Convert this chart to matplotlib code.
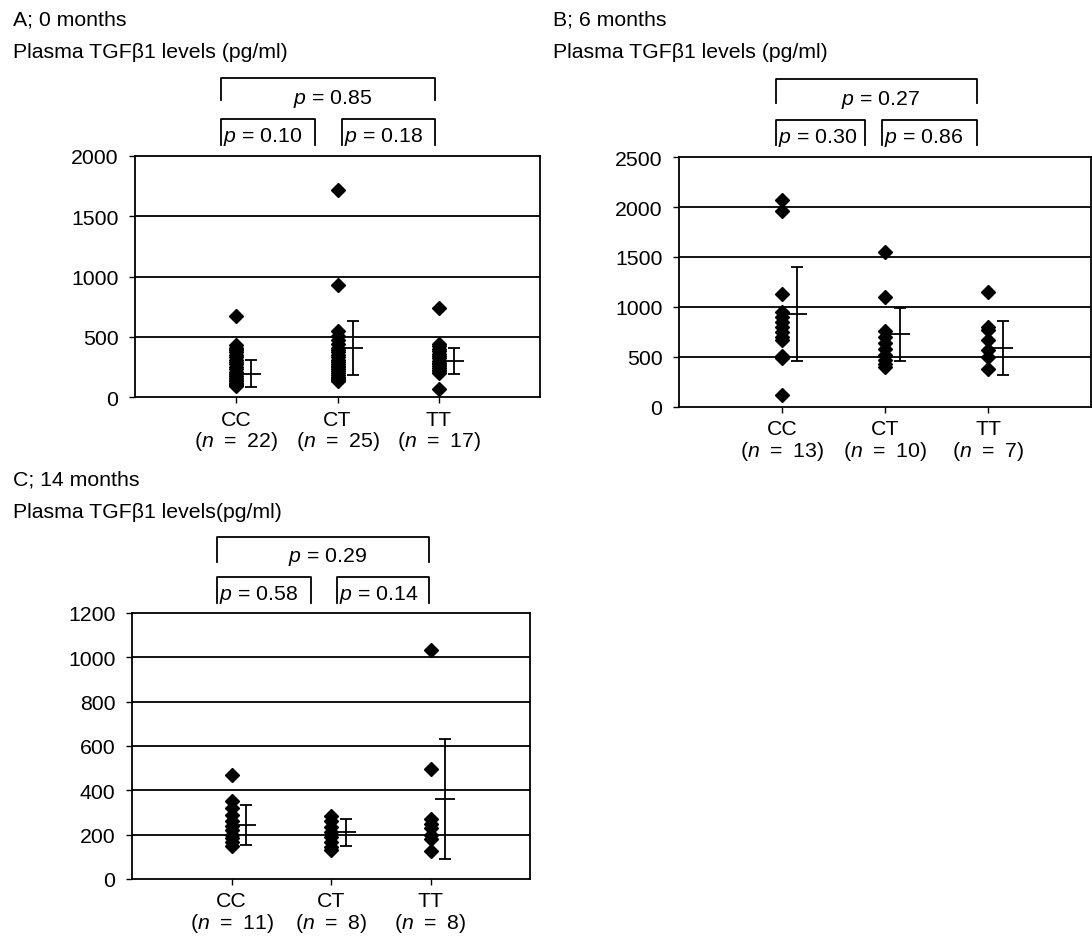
import matplotlib
matplotlib.use("Agg")
import matplotlib.pyplot as plt
from matplotlib.lines import Line2D

plt.rcParams['font.family'] = ['Liberation Sans', 'DejaVu Sans']
plt.rcParams['mathtext.fontset'] = 'custom'
plt.rcParams['mathtext.it'] = 'Liberation Sans:italic'
plt.rcParams['mathtext.rm'] = 'Liberation Sans'

# ---------------- data ----------------
genotypes = ["CC", "CT", "TT"]

a_cc = [674, 430, 410, 390, 370, 350, 330, 310, 290, 270, 250, 230, 210, 190, 175, 160, 145, 130, 118, 106, 96, 88]
a_ct = [1714, 932, 549, 510, 470, 440, 410, 390, 370, 350, 330, 310, 290, 275, 260, 245, 230, 215, 200, 185, 170, 160, 150, 140, 133]
a_tt = [735, 438, 420, 400, 380, 360, 340, 320, 300, 285, 270, 255, 240, 225, 212, 202, 69]
a_mean = [192, 405, 300]
a_sd = [113, 222, 110]
a_n = [22, 25, 17]
a_p = ["0.85", "0.10", "0.18"]

b_cc = [2067, 1957, 1133, 950, 900, 850, 800, 750, 700, 667, 510, 490, 117]
b_ct = [1550, 1100, 760, 700, 640, 580, 520, 470, 430, 400]
b_tt = [1150, 800, 770, 670, 570, 500, 380]
b_mean = [927, 727, 590]
b_sd = [470, 268, 268]
b_n = [13, 10, 7]
b_p = ["0.27", "0.30", "0.86"]

c_cc = [467, 350, 320, 290, 260, 240, 220, 200, 185, 165, 150]
c_ct = [285, 260, 235, 210, 190, 165, 145, 130]
c_tt = [1035, 497, 270, 250, 230, 200, 180, 125]
c_mean = [244, 211, 361]
c_sd = [92, 60, 272]
c_n = [11, 8, 8]
c_p = ["0.29", "0.58", "0.14"]

W, H = 1092, 937
fig = plt.figure(figsize=(W / 100, H / 100), dpi=100)
FS = 15.3
EQ_P = " = "
EQ_N = "\u2002=\u2002"


def ftext(x, y, s, **kw):
    fig.text(x / W, 1 - y / H, s, fontsize=FS, **kw)


def fline(xs, ys):
    fig.add_artist(Line2D([x / W for x in xs], [1 - y / H for y in ys],
                          color='black', lw=1.3, transform=fig.transFigure))


def panel(box, groups, means, sds, ns, ymax, ystep):
    left, top, right, bottom = box
    ax = fig.add_axes([left / W, 1 - bottom / H, (right - left) / W, (bottom - top) / H])
    for i, vals in enumerate(groups):
        ax.plot([i + 1] * len(vals), vals, linestyle='none', marker='D',
                markersize=7, color='black', clip_on=False, zorder=3)
    xs = [i + 1.15 for i in range(3)]
    ax.errorbar(xs, means, yerr=sds, fmt='none', ecolor='black', elinewidth=1.3,
                capsize=4, capthick=1.3, zorder=3)
    ax.plot(xs, means, linestyle='none', marker='_', markersize=15,
            markeredgewidth=1.3, color='black', zorder=3)
    ax.set_xlim(0, 4)
    ax.set_ylim(0, ymax)
    ticks = list(range(0, ymax + 1, ystep))
    ax.set_yticks(ticks)
    ax.set_yticklabels([str(t) for t in ticks], fontsize=FS)
    ax.set_xticks([1, 2, 3])
    ax.set_xticklabels([f"{g}\n($n${EQ_N}{n})" for g, n in zip(genotypes, ns)],
                       fontsize=FS, linespacing=1.05)
    ax.tick_params(axis='both', direction='out', length=4, width=1.0, pad=5)
    ax.tick_params(axis='y', pad=8)
    for t in ticks[1:-1]:
        ax.axhline(t, color='black', lw=1.3, zorder=1)
    for s in ax.spines.values():
        s.set_linewidth(1.3)
    return ax


def brackets(outer, inner_l, inner_r, y_o, y_i, ptxt, ptext_xy):
    (ox0, ox1), (lx0, lx1), (rx0, rx1) = outer, inner_l, inner_r
    ot, ob = y_o
    it, ib = y_i
    fline([ox0, ox0, ox1, ox1], [ob, ot, ot, ob])
    fline([lx0, lx0, lx1, lx1], [ib, it, it, ib])
    fline([rx0, rx0, rx1, rx1], [ib, it, it, ib])
    (cx, cy), ly = ptext_xy
    ftext(cx, cy, f"$p${EQ_P}{ptxt[0]}", ha='center', va='center')
    ftext(lx0 + 2, ly, f"$p${EQ_P}{ptxt[1]}", ha='left', va='center')
    ftext(rx0 + 2, ly, f"$p${EQ_P}{ptxt[2]}", ha='left', va='center')


# Panel A
ftext(13, 20, "A; 0 months", ha='left', va='center')
ftext(13, 52, "Plasma TGFβ1 levels (pg/ml)", ha='left', va='center')
panel((135, 157, 540, 398), [a_cc, a_ct, a_tt], a_mean, a_sd, a_n, 2000, 500)
brackets((221, 435), (221, 315), (342, 435), (79, 101), (120, 146), a_p,
         [(333, 99), 137])

# Panel B
ftext(553, 20, "B; 6 months", ha='left', va='center')
ftext(553, 52, "Plasma TGFβ1 levels (pg/ml)", ha='left', va='center')
panel((679, 158, 1091, 408), [b_cc, b_ct, b_tt], b_mean, b_sd, b_n, 2500, 500)
brackets((776, 977), (776, 865), (882, 977), (80, 104), (121, 146), b_p,
         [(880, 100), 138])

# Panel C
ftext(13, 480, "C; 14 months", ha='left', va='center')
ftext(13, 512, "Plasma TGFβ1 levels(pg/ml)", ha='left', va='center')
panel((132, 614, 530, 880), [c_cc, c_ct, c_tt], c_mean, c_sd, c_n, 1200, 200)
brackets((217, 429), (217, 311), (337, 429), (538, 563), (578, 604), c_p,
         [(327, 557), 595])

fig.savefig("out.png", dpi=100)
